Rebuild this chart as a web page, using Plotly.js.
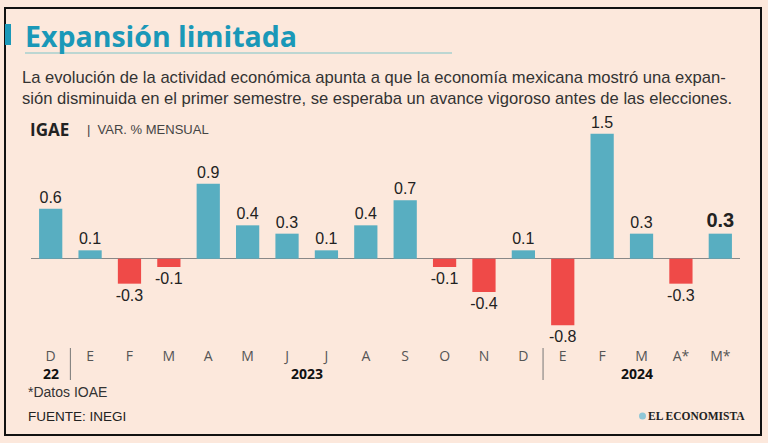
<!DOCTYPE html>
<html>
<head>
<meta charset="utf-8">
<script src="https://cdn.plot.ly/plotly-3.0.1.min.js"></script>
<style>
  html, body { margin: 0; padding: 0; background: #fce8dc; }
  #chart { width: 768px; height: 443px; }
</style>
</head>
<body>
<div id="chart"></div>
<script>
const months = ["D", "E", "F", "M", "A", "M", "J", "J", "A", "S", "O", "N", "D", "E", "F", "M", "A*", "M*"];
const values = [0.6, 0.1, -0.3, -0.1, 0.9, 0.4, 0.3, 0.1, 0.4, 0.7, -0.1, -0.4, 0.1, -0.8, 1.5, 0.3, -0.3, 0.3];
const years = ["22", "2023", "2024"];
const yearPos = [0, 6.5, 14.88];
const yearBreaks = [0.5, 12.5];

const titleText = "Expansión limitada";
const subtitleLines = [
  "La evolución de la actividad económica apunta a que la economía mexicana mostró una expan-",
  "sión disminuida en el primer semestre, se esperaba un avance vigoroso antes de las elecciones."
];

const idx = months.map((m, i) => i);
const posColor = "#58aec1", negColor = "#ef4a48", teal = "#1a98b8";
const narrow = "'Liberation Sans', Arial, sans-serif";
const sans = "'Open Sans', 'Noto Sans', sans-serif";

// Plot area in pixels
const L = 31, R = 740, T = 117, B = 342;
const px = y => (B - y) / (B - T);
const pxx = x => (x - L) / (R - L);

const labels = values.map((v, i) => i === values.length - 1 ? "<b>" + v.toFixed(1) + "</b>" : v.toFixed(1));
const labelSizes = values.map((v, i) => i === values.length - 1 ? 20 : 16);

const trace = {
  type: "bar",
  x: idx,
  y: values,
  marker: { color: values.map(v => v >= 0 ? posColor : negColor) },
  width: 0.59,
  text: labels,
  textposition: "outside",
  constraintext: "none",
  cliponaxis: false,
  textfont: { family: narrow, size: labelSizes, color: "#222" },
  hoverinfo: "skip"
};

const annotations = [];
years.forEach((y, i) => annotations.push({
  x: yearPos[i], xref: "x", y: px(373), yref: "paper", yanchor: "middle", xanchor: "center",
  text: "<b>" + y + "</b>", showarrow: false,
  font: { family: sans, size: 14, color: "#111" }
}));
function note(x, y, text, font, anchor) {
  annotations.push({ x: pxx(x), xref: "paper", y: px(y), yref: "paper", xanchor: anchor || "left",
    yanchor: "middle", text: text, showarrow: false, font: font, align: "left" });
}
note(23, 36, "<b>" + titleText + "</b>", { family: sans, size: 28.5, color: teal });
subtitleLines.forEach((s, i) => note(20, 77 + i * 22, s, { family: narrow, size: 16.6, color: "#333" }));
note(28, 129, "<b>IGAE</b>", { family: sans, size: 17, color: "#222" });
note(85, 129, "|  VAR. % MENSUAL", { family: narrow, size: 13, color: "#444" });
note(26, 392, "*Datos IOAE", { family: narrow, size: 14, color: "#333" });
note(26, 416, "FUENTE: INEGI", { family: narrow, size: 13.5, color: "#222" });
note(747, 416, "<b>EL ECONOMISTA</b>", { family: "'Liberation Serif', 'DejaVu Serif', serif", size: 11.5, color: "#222" }, "right");

const shapes = [];
shapes.push({ type: "rect", xref: "paper", yref: "paper", x0: pxx(5), x1: pxx(761), y0: px(8), y1: px(435),
  line: { color: "#111", width: 2 }, layer: "below" });
shapes.push({ type: "rect", xref: "paper", yref: "paper", x0: pxx(5), x1: pxx(11), y0: px(24), y1: px(45),
  fillcolor: teal, line: { width: 0 } });
shapes.push({ type: "line", xref: "paper", yref: "paper", x0: pxx(25), x1: pxx(452), y0: px(53), y1: px(53),
  line: { color: "#7cc4c8", width: 1 } });
shapes.push({ type: "circle", xref: "paper", yref: "paper", x0: pxx(639), x1: pxx(646), y0: px(412.5), y1: px(419.5),
  fillcolor: "#8fc6d6", line: { width: 0 } });
yearBreaks.forEach(b => shapes.push({
  type: "line", xref: "x", yref: "paper", x0: b, x1: b, y0: px(348), y1: px(380),
  line: { color: "#777", width: 1 }
}));

const layout = {
  width: 768, height: 443,
  paper_bgcolor: "#fce8dc", plot_bgcolor: "rgba(0,0,0,0)",
  margin: { l: L, r: 768 - R, t: T, b: 443 - B },
  showlegend: false,
  xaxis: {
    range: [-0.5, 17.5], tickvals: idx, ticktext: months, showgrid: false, zeroline: false,
    showline: false, ticks: "", fixedrange: true, ticklabelstandoff: 4,
    tickfont: { family: sans, size: 14, color: "#555" }
  },
  yaxis: {
    range: [-1.0, 1.7], showgrid: false, showticklabels: false, ticks: "",
    zeroline: true, zerolinecolor: "#888", zerolinewidth: 1.5, fixedrange: true
  },
  annotations: annotations,
  shapes: shapes
};

Plotly.newPlot("chart", [trace], layout, { staticPlot: true });
</script>
</body>
</html>
